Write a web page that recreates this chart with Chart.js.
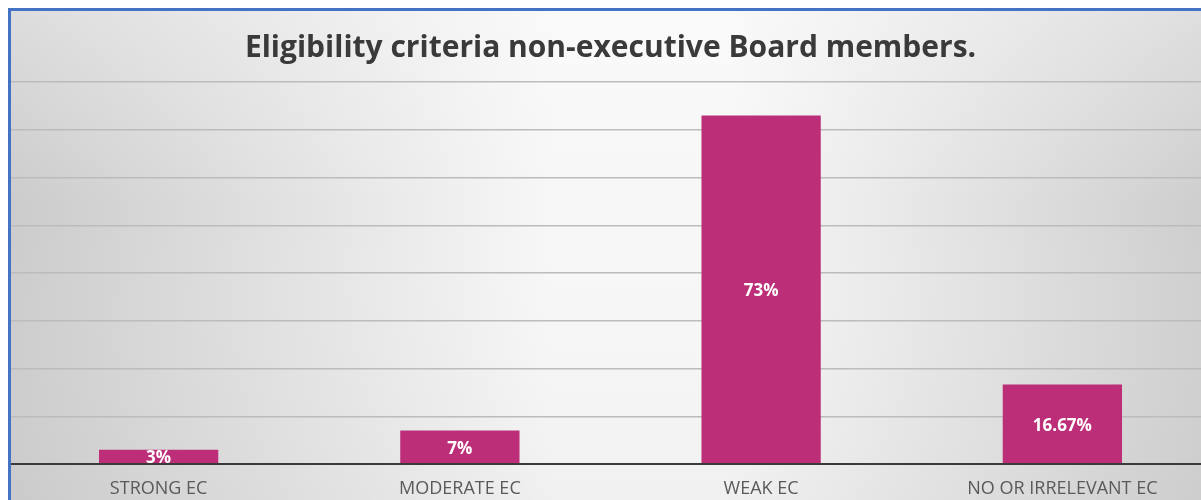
<!DOCTYPE html>
<html>
<head>
<meta charset="utf-8">
<script src="https://cdn.jsdelivr.net/npm/chart.js@4/dist/chart.umd.min.js"></script>
<style>
  html, body { margin: 0; padding: 0; background: #ffffff; overflow: hidden; }
  body { width: 1201px; height: 500px; position: relative; }
  #wrap { position: absolute; left: 8px; top: 8px; width: 1205px; height: 492px; }
  #chart { display: block; }
  #frame { position: absolute; left: 8px; top: 8px; width: 1300px; height: 600px;
           border-left: 3px solid #4472c4; border-top: 3px solid #4472c4; pointer-events: none; }
</style>
</head>
<body>
<div id="wrap"><canvas id="chart" width="1205" height="492"></canvas></div>
<div id="frame"></div>
<script>
// Eligibility criteria for non-executive Board members (% of cases)
const categories = ['STRONG EC', 'MODERATE EC', 'WEAK EC', 'NO OR IRRELEVANT EC'];
const shares = [3, 7, 73, 16.67];
const valueLabels = ['3%', '7%', '73%', '16.67%'];
const titleText = 'Eligibility criteria non-executive Board members.';

// soft grey-to-white panel behind the plot
const panelBackground = {
  id: 'panelBackground',
  beforeDraw(chart) {
    const { ctx, width, height } = chart;
    const g = ctx.createLinearGradient(0, 0, width, 0);
    g.addColorStop(0, '#cbcbcb');
    g.addColorStop(0.45, '#f7f7f7');
    g.addColorStop(0.6, '#f7f7f7');
    g.addColorStop(1, '#cdcdcd');
    ctx.save();
    ctx.fillStyle = g;
    ctx.fillRect(0, 0, width, height);
    const v = ctx.createLinearGradient(0, 0, 0, height);
    v.addColorStop(0, 'rgba(255,255,255,0.35)');
    v.addColorStop(0.4, 'rgba(255,255,255,0)');
    v.addColorStop(1, 'rgba(200,200,200,0.15)');
    ctx.fillStyle = v;
    ctx.fillRect(0, 0, width, height);
    ctx.restore();
  }
};

// value labels centred inside each bar
const barValueLabels = {
  id: 'barValueLabels',
  afterDatasetsDraw(chart) {
    const { ctx } = chart;
    const meta = chart.getDatasetMeta(0);
    ctx.save();
    ctx.font = 'bold 17px "Open Sans", sans-serif';
    ctx.fillStyle = '#ffffff';
    ctx.textAlign = 'center';
    ctx.textBaseline = 'middle';
    meta.data.forEach((bar, i) => {
      const y = (bar.y + bar.base) / 2;
      ctx.fillText(valueLabels[i], bar.x, y + 2);
    });
    ctx.restore();
  }
};

new Chart(document.getElementById('chart'), {
  type: 'bar',
  data: {
    labels: categories,
    datasets: [{
      data: shares,
      backgroundColor: '#bc2f78',
      borderWidth: 0,
      barPercentage: 0.4,
      categoryPercentage: 0.99
    }]
  },
  options: {
    responsive: false,
    animation: false,
    devicePixelRatio: 1,
    layout: { padding: 0 },
    plugins: {
      legend: { display: false },
      tooltip: { enabled: false },
      title: {
        display: true,
        text: titleText,
        color: '#3a3a3a',
        font: { family: '"Open Sans", sans-serif', size: 30, weight: 'bold', lineHeight: 1.2 },
        padding: { top: 22, bottom: 16 }
      }
    },
    scales: {
      x: {
        grid: { display: false },
        border: { display: false },
        ticks: {
          color: '#5a5a5a',
          font: { family: '"Open Sans", sans-serif', size: 18 },
          padding: 6,
          maxRotation: 0,
          autoSkip: false
        },
        afterFit(scale) { scale.height = 36; }
      },
      y: {
        min: 0,
        max: 80,
        ticks: { display: false, stepSize: 10 },
        border: { display: false },
        grid: {
          drawTicks: false,
          color: (c) => c.tick && c.tick.value === 0 ? '#3a3a3a' : '#bcbcbc',
          lineWidth: (c) => c.tick && c.tick.value === 0 ? 2 : 1.5
        },
        afterFit(scale) { scale.width = 0; }
      }
    }
  },
  plugins: [panelBackground, barValueLabels]
});
</script>
</body>
</html>
